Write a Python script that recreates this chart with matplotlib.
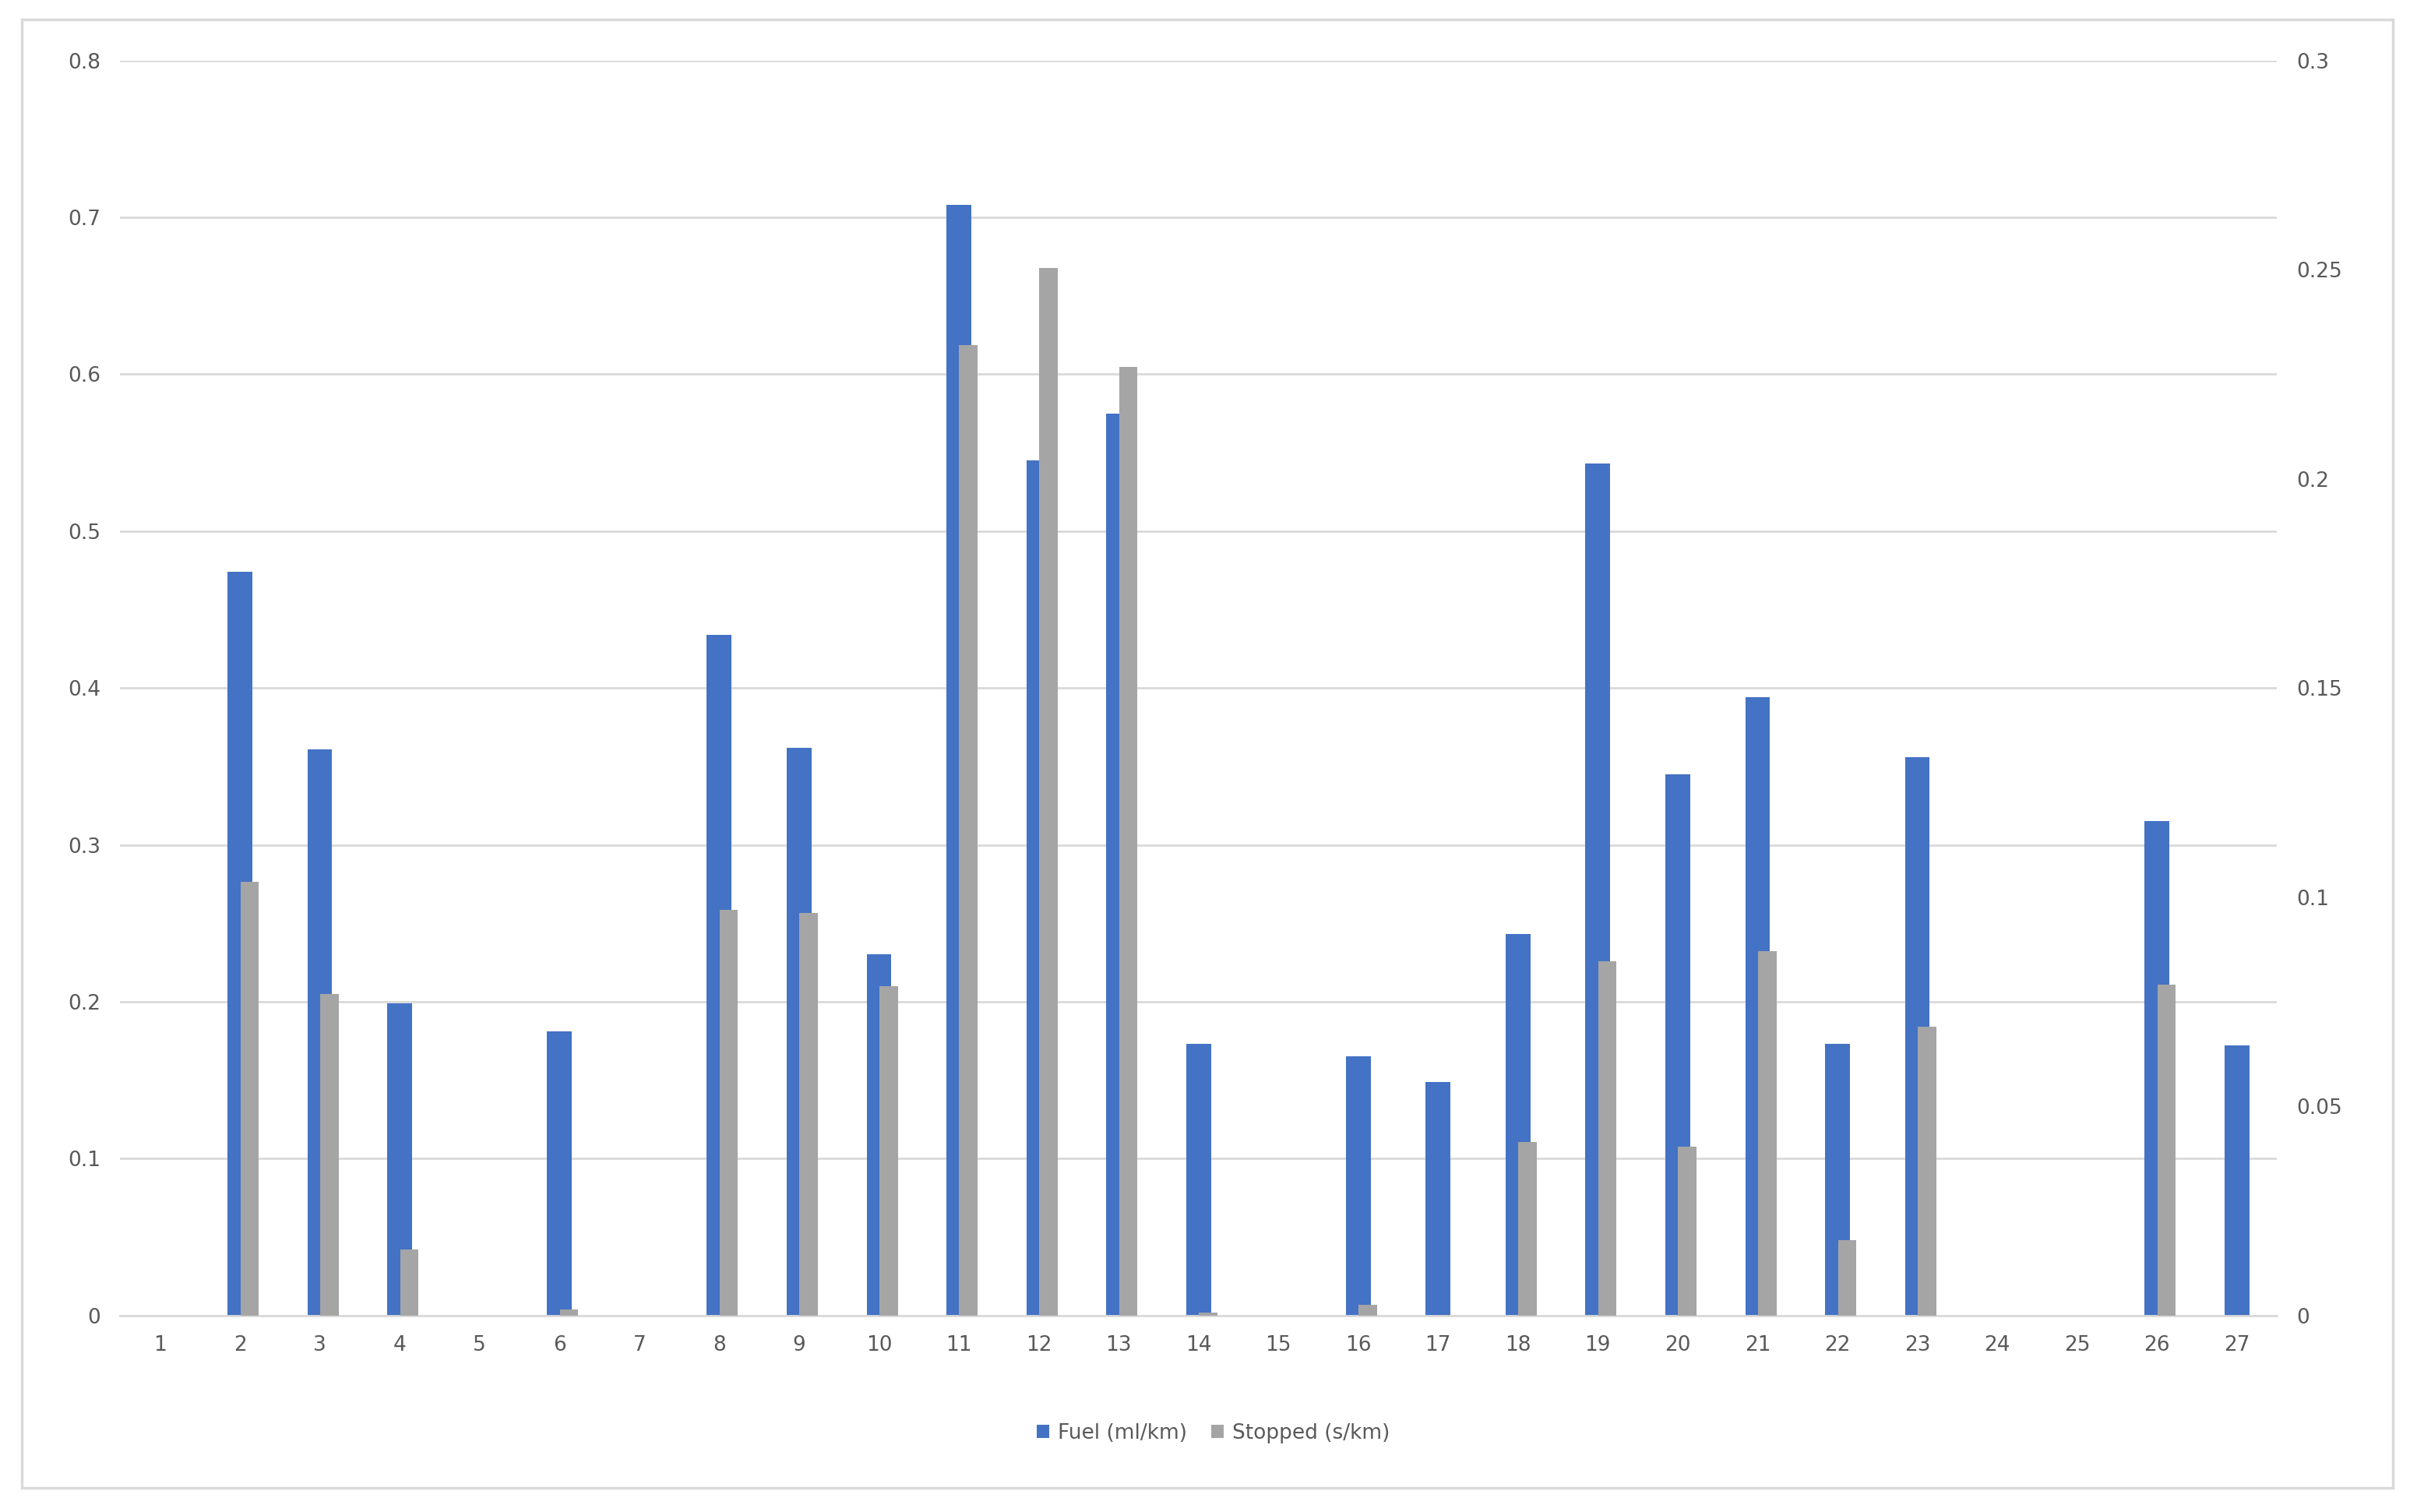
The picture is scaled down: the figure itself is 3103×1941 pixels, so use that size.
import numpy as np
import matplotlib
matplotlib.use("Agg")
import matplotlib.pyplot as plt
from matplotlib.patches import Rectangle

plt.rcParams['font.family'] = ['DejaVu Sans']

# data
categories = list(range(1, 28))
fuel = [0, 0.474, 0.361, 0.199, 0, 0.181, 0, 0.434, 0.362, 0.230,
        0.708, 0.545, 0.575, 0.173, 0, 0.165, 0.149, 0.243, 0.543, 0.345,
        0.394, 0.173, 0.356, 0, 0, 0.315, 0.172]
stopped = [0, 0.1037, 0.0768, 0.0158, 0, 0.0015, 0, 0.097, 0.0963, 0.0787,
           0.232, 0.2504, 0.2268, 0.0007, 0, 0.0026, 0, 0.0415, 0.0846, 0.0404,
           0.0871, 0.018, 0.069, 0, 0, 0.079, 0]

BLUE = '#4472C4'
GREY = '#A5A5A5'
TXT = '#595959'
FS = 19

fig = plt.figure(figsize=(31.03, 19.41), dpi=100)
fig.patches.append(Rectangle((0.009, 0.016), 0.981, 0.971, transform=fig.transFigure,
                             fill=False, ec='#D9D9D9', lw=2.5))
ax = fig.add_axes([0.0497, 0.130, 0.8923, 0.830])
x = np.array(categories)
ax.bar(x + 0.0, fuel, width=0.31, color=BLUE, zorder=2, label='Fuel (ml/km)')
ax.set_ylim(0, 0.8)
ax.set_yticks(np.arange(0, 0.81, 0.1))
ax.set_yticklabels(['0'] + [f'{v:.1f}' for v in np.arange(0.1, 0.81, 0.1)])
ax.set_xlim(0.5, 27.5)
ax.set_xticks(x)
ax.grid(axis='y', color='#D9D9D9', lw=2, zorder=0)
ax.set_axisbelow(True)

ax2 = ax.twinx()
ax2.bar(x + 0.12, stopped, width=0.23, color=GREY, zorder=3, label='Stopped (s/km)')
ax2.set_ylim(0, 0.3)
ax2.set_yticks(np.arange(0, 0.31, 0.05))
ax2.set_yticklabels(['0', '0.05', '0.1', '0.15', '0.2', '0.25', '0.3'])

for a in (ax, ax2):
    for s in a.spines.values():
        s.set_visible(False)
    a.tick_params(length=0, labelsize=FS, colors=TXT, pad=18)
ax.spines['bottom'].set_visible(True)
ax.spines['bottom'].set_color('#D9D9D9')
ax.spines['bottom'].set_linewidth(2)

h1, l1 = ax.get_legend_handles_labels()
h2, l2 = ax2.get_legend_handles_labels()
fig.legend(h1 + h2, l1 + l2, loc='center', bbox_to_anchor=(0.502, 0.052), ncol=2,
           frameon=False, fontsize=FS, labelcolor=TXT, handlelength=0.6,
           handleheight=0.6, handletextpad=0.4, columnspacing=1.2)

fig.savefig('out.png', dpi=100)
